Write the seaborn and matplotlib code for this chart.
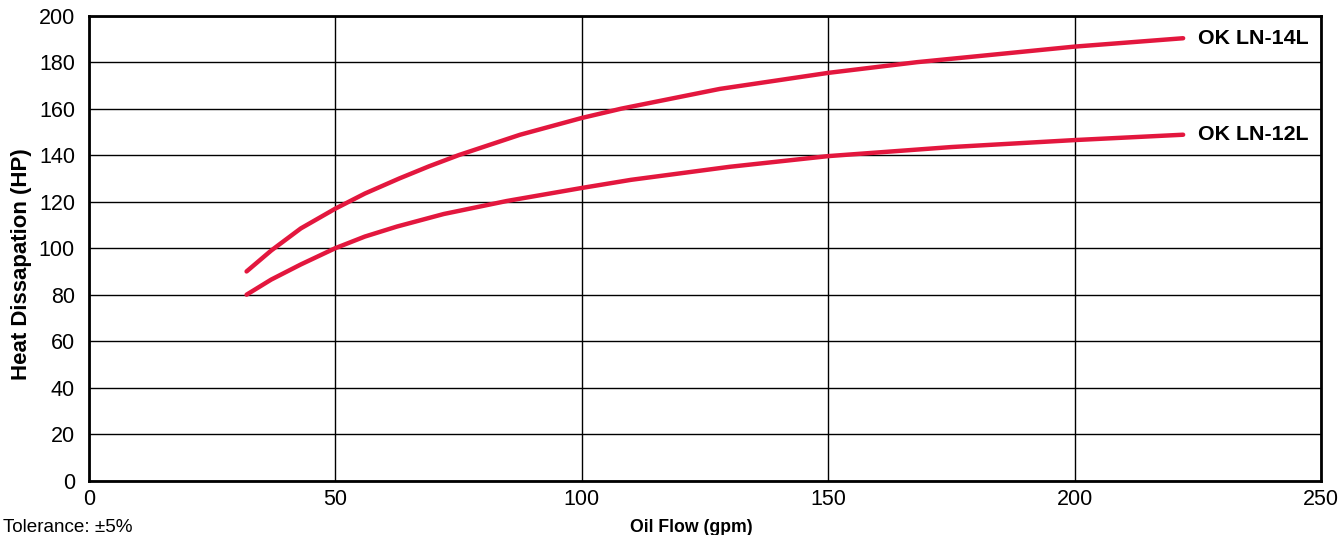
import numpy as np
import pandas as pd
import matplotlib
matplotlib.use("Agg")
import matplotlib.pyplot as plt
import seaborn as sns

# values
flow_14l = [32, 37, 43, 50, 56, 63, 69, 75, 87.5, 100, 108, 128, 150, 168, 200, 222]
heat_14l = [90, 99, 108.5, 117, 123.5, 130, 135.2, 140, 148.8, 156, 160, 168.5, 175.4, 180, 186.7, 190.3]
flow_12l = [32, 37, 43, 50, 56, 62.5, 72, 84.8, 100, 110, 130, 150, 175, 200, 222]
heat_12l = [80, 86.5, 93, 100, 105, 109.3, 114.7, 120.3, 125.9, 129.4, 135, 139.6, 143.5, 146.5, 148.8]
series_names = ["OK LN-14L", "OK LN-12L"]

df = pd.concat([
    pd.DataFrame({"flow": flow_14l, "heat": heat_14l, "model": series_names[0]}),
    pd.DataFrame({"flow": flow_12l, "heat": heat_12l, "model": series_names[1]}),
])

sns.set_style("white")
plt.rcParams["font.family"] = ["Liberation Sans", "DejaVu Sans"]
plt.rcParams["text.color"] = "black"

fig = plt.figure(figsize=(13.44, 5.35), dpi=100)
ax = fig.add_axes([0.0661, 0.1015, 0.9169, 0.8692])

sns.lineplot(data=df, x="flow", y="heat", hue="model", palette=["#e3173e", "#e3173e"],
             linewidth=3.2, legend=False, ax=ax, sort=True)

ax.set_xlim(0, 250)
ax.set_ylim(0, 200)
ax.set_xticks(np.arange(0, 251, 50))
ax.set_yticks(np.arange(0, 201, 20))
ax.grid(True, color="black", linewidth=1)
ax.set_axisbelow(True)
for s in ax.spines.values():
    s.set_color("black")
    s.set_linewidth(2)
ax.tick_params(axis="y", length=0, labelsize=15.5, colors="black", pad=10)
ax.tick_params(axis="x", length=0, labelsize=15.5, colors="black", pad=6)

ax.set_xlabel("Oil Flow (gpm)", fontsize=12.7, fontweight="bold", color="black", va="center")
ax.xaxis.set_label_coords(0.4887, -0.1)
ax.set_ylabel("Heat Dissapation (HP)", fontsize=16, fontweight="bold", color="black", va="center")
ax.yaxis.set_label_coords(-0.055, 0.466)

ax.text(flow_14l[-1] + 3, heat_14l[-1], series_names[0], fontsize=15.4, fontweight="bold",
        va="center", ha="left")
ax.text(flow_12l[-1] + 3, heat_12l[-1], series_names[1], fontsize=15.4, fontweight="bold",
        va="center", ha="left")

fig.text(0.002, 1 - 527 / 535, "Tolerance: \u00b15%", fontsize=13.6, ha="left", va="center")

fig.savefig("out.png", dpi=100)
